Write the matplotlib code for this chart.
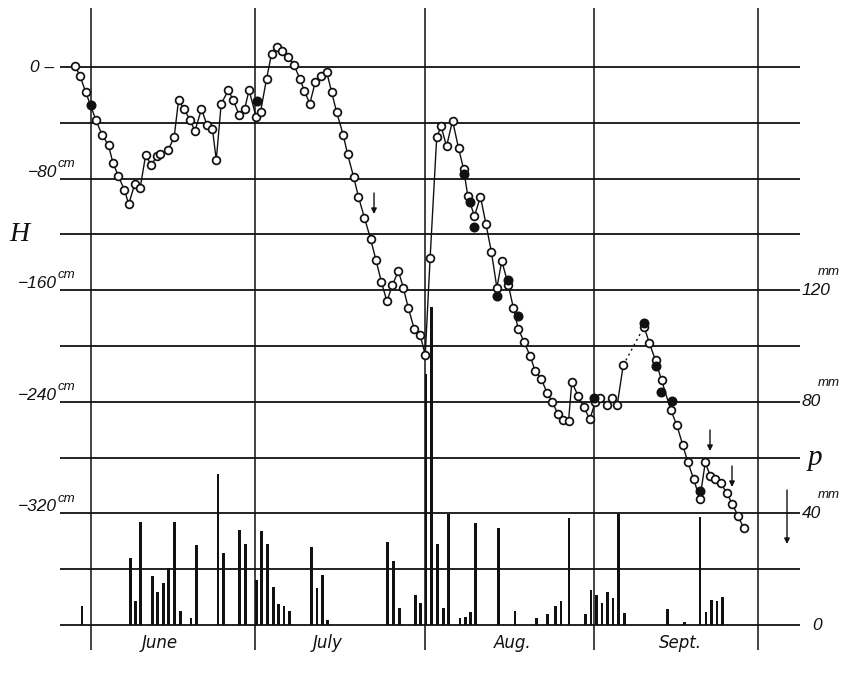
import numpy as np
import matplotlib.pyplot as plt

# Tage ab 1. Juni (0 = 1. Juni), Grundwasserstand H in cm (offene Kreise)
tage = [-2.9, -2.0, -1.0, 0.9, 2.0, 3.2, 4.0, 5.0, 6.1, 6.9, 8.0, 9.0, 10.0, 11.0,
        12.0, 12.7, 14.1, 15.2, 16.0, 17.0, 18.1, 19.0, 20.2, 21.2, 22.2, 22.9,
        23.8, 25.1, 26.0, 27.1, 28.1, 28.9, 30.2, 31.0, 32.1, 33.0, 34.0, 34.9,
        36.0, 37.1, 38.2, 39.0, 40.0, 41.0, 42.1, 43.1, 44.0, 44.9, 46.1, 46.9,
        48.0, 48.9, 50.0, 51.1, 52.1, 53.1, 54.1, 55.1, 56.2, 57.1, 58.0, 59.1,
        60.2, 61.1, 62.0, 63.2, 64.0, 65.0, 66.1, 67.2, 68.1, 68.9, 70.1, 71.2,
        72.2, 73.2, 74.2, 75.1, 76.3, 77.2, 78.1, 79.2, 80.3, 81.2, 82.3, 83.4,
        84.3, 85.4, 86.3, 87.3, 87.9, 89.1, 90.1, 91.2, 92.2, 93.1, 94.3, 95.2,
        96.2, 97.3, 101.1, 102.1, 103.2, 104.3, 106.0, 107.1, 108.2, 109.1, 110.2,
        111.3, 112.3, 113.2, 114.1, 115.1, 116.2, 117.2, 118.3, 119.3]
H = [0.7, -6.5, -17.7, -38.0, -48.5, -56.1, -68.6, -78.1, -88.2, -98.2, -83.9, -86.5,
     -62.9, -70.5, -64.0, -62.4, -59.5, -50.4, -23.9, -29.9, -38.0, -45.9, -30.1,
     -41.6, -44.4, -66.7, -26.5, -16.5, -23.9, -34.4, -29.9, -16.5, -36.2, -32.0,
     -8.4, 9.3, 14.1, 11.3, 7.4, 1.6, -8.6, -17.0, -26.3, -10.8, -6.2, -3.8, -18.1,
     -32.3, -48.5, -62.4, -78.6, -93.2, -108.2, -123.1, -138.4, -154.3, -168.0,
     -156.3, -146.2, -158.4, -172.5, -188.0, -192.3, -206.6, -136.6, -50.4, -42.5,
     -56.8, -38.5, -58.3, -72.9, -92.7, -106.8, -93.0, -112.5, -132.6, -158.2,
     -139.1, -156.3, -172.5, -187.6, -197.3, -207.4, -217.9, -223.4, -233.9,
     -239.9, -249.0, -253.0, -253.8, -225.8, -236.2, -243.9, -252.5, -239.9,
     -237.5, -242.3, -237.5, -242.3, -213.8, -186.2, -198.1, -210.3, -224.4,
     -245.9, -256.8, -271.2, -283.2, -295.6, -309.7, -283.4, -293.0, -295.3,
     -298.2, -305.2, -313.0, -321.9, -330.5]

# zweite Messreihe (volle Kreise)
tage_voll = [0.0, 30.3, 68.1, 69.2, 70.1, 74.2, 76.2, 78.1, 92.0, 101.1, 103.3,
             104.2, 106.3, 111.3]
H_voll = [-27.5, -24.4, -76.7, -97.0, -114.5, -164.2, -152.7, -178.5, -237.0,
          -183.8, -214.0, -233.2, -239.2, -303.7]

# Niederschlag p in mm
tage_regen = [-1.65, 7.2, 8.2, 9.1, 11.2, 12.2, 13.2, 14.2, 15.3, 16.3, 18.3, 19.25,
              23.2, 24.25, 27.2, 28.3, 30.2, 31.2, 32.3, 33.3, 34.3, 35.3, 36.25,
              40.3, 41.3, 42.35, 43.3, 54.25, 55.25, 56.35, 59.3, 60.3, 61.25, 62.3,
              63.4, 64.4, 65.4, 67.45, 68.45, 69.4, 70.35, 74.45, 77.5, 81.5, 83.5,
              84.9, 85.9, 87.4, 90.45, 91.4, 92.45, 93.4, 94.4, 95.45, 96.5, 97.55,
              105.45, 108.45, 111.35, 112.45, 113.45, 114.45, 115.5]
regen = [6.8, 23.9, 8.7, 36.8, 17.6, 11.7, 15.2, 20.3, 37.0, 5.0, 2.6, 28.7,
         54.0, 25.8, 33.9, 28.9, 16.0, 33.7, 29.1, 13.7, 7.6, 6.9, 5.0,
         27.8, 13.3, 17.8, 1.8, 29.7, 22.9, 6.2, 10.8, 8.0, 89.9, 114.0,
         28.9, 6.2, 39.7, 2.6, 3.0, 4.7, 36.6, 34.7, 5.0, 2.6, 3.8,
         6.9, 8.7, 38.5, 3.8, 12.5, 10.8, 7.8, 11.7, 9.8, 39.7, 4.3,
         5.7, 1.2, 38.7, 4.8, 9.0, 8.6, 9.9]

monate = ['June', 'July', 'Aug.', 'Sept.']
monatsgrenzen = [0, 30, 61, 92, 122]
H_linien = list(range(0, -401, -40))
H_beschriftet = [-80, -160, -240, -320]
p_beschriftet = [120, 80, 40]

# pixel -> daten, nur fuer beschriftungen
def dx(px):
    return (px - 91) / 5.47

def dy(py):
    return (67 - py) / 1.395

fig = plt.figure(figsize=(8.45, 6.78), dpi=100)
ax = fig.add_axes([0, 0, 1, 1])
ax.set_xlim(dx(0), dx(845))
ax.set_ylim(dy(678), dy(0))
ax.axis('off')

# rechte achse: p = (H + 400) / 2
ax2 = ax.twinx()
ax2.set_ylim((dy(678) + 400) / 2, (dy(0) + 400) / 2)
ax2.axis('off')

k = '#111111'
ax.hlines(H_linien, dx(60), dx(800), color=k, lw=1.3, zorder=1)
ax.vlines(monatsgrenzen, dy(650), dy(8), color=k, lw=1.1, zorder=1)

# regenbalken
ax2.bar(tage_regen, regen, width=0.5, color=k, zorder=2)

# ganglinie, bei luecken punktiert
t = np.array(tage)
h = np.array(H)
luecke = np.where(np.diff(t) > 3)[0]
start = 0
for i in list(luecke) + [len(t) - 1]:
    ax.plot(t[start:i + 1], h[start:i + 1], color=k, lw=1.0, zorder=3)
    if i < len(t) - 1:
        ax.plot(t[i:i + 2], h[i:i + 2], color=k, lw=1.0, ls=(0, (1.5, 2.5)), zorder=3)
    start = i + 1
ax.plot(t, h, 'o', ms=5.6, mfc='white', mec=k, mew=1.25, zorder=4)
ax.plot(tage_voll, H_voll, 'o', ms=6.2, mfc=k, mec=k, mew=1.0, zorder=5)

# pfeile
for x, y0, y1 in [(374, 193, 214), (710, 430, 451), (732, 466, 487), (787, 490, 544)]:
    ax.annotate('', xy=(dx(x), dy(y1)), xytext=(dx(x), dy(y0)),
                arrowprops=dict(arrowstyle='-|>', lw=1.0, color=k, mutation_scale=8,
                                shrinkA=0, shrinkB=0))

zf = dict(family='Liberation Sans', style='italic', color=k)
ax.text(dx(54), 0, '0 \u2013', fontsize=12.5, ha='right', va='center', **zf)
for v in H_beschriftet:
    ax.text(dx(57), v + 1.5, '\u2212' + str(abs(v)), fontsize=12.5, ha='right',
            va='baseline', **zf)
    ax.text(dx(58), v + 8.5, 'cm', fontsize=9.5, ha='left', va='baseline', **zf)

for v in p_beschriftet:
    ax2.text(dx(802), v, str(v), fontsize=12.5, ha='left', va='center', **zf)
    ax2.text(dx(818), v + 5.5, 'mm', fontsize=9.5, ha='left', va='baseline', **zf)
ax2.text(dx(812), 0, '0', fontsize=12.5, ha='left', va='center', **zf)

sf = dict(family='Liberation Serif', style='italic', color=k)
ax.text(dx(19), -120, 'H', fontsize=20, ha='center', va='center', **sf)
ax2.text(dx(815), 60, 'p', fontsize=21, ha='center', va='center', **sf)

for name, px in zip(monate, [160, 328, 513, 680]):
    ax.text(dx(px), dy(643), name, fontsize=12, ha='center', va='center',
            family='DejaVu Sans', style='italic', color=k)

fig.savefig('out.png', dpi=100)
